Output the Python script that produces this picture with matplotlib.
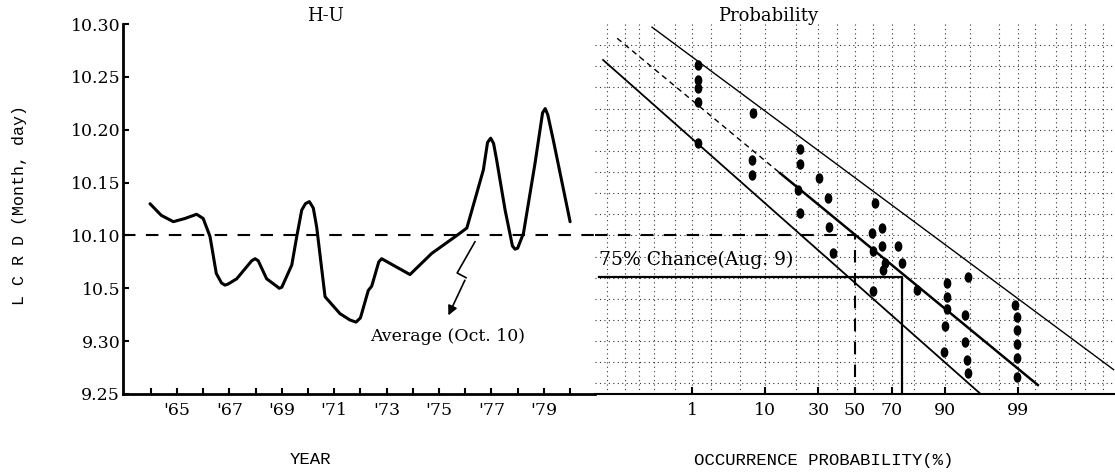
import math
import numpy as np
import matplotlib
matplotlib.use("Agg")
import matplotlib.pyplot as plt
from matplotlib.path import Path
from matplotlib.transforms import Affine2D

# y values are days counted from Sept 1 (25 -> 9.25, 40 -> 10.10, 60 -> 10.30)
y_ticks = [25, 30, 35, 40, 45, 50, 55, 60]
y_tick_labels = ["9.25", "9.30", "10.5", "10.10", "10.15", "10.20", "10.25", "10.30"]

# H-U yearly curve
years = [1963.97, 1964.4, 1964.86, 1965.3, 1965.75, 1966.0, 1966.26, 1966.5,
         1966.7, 1966.83, 1966.95, 1967.28, 1967.85, 1967.98, 1968.1, 1968.42,
         1968.8, 1968.9, 1969.0, 1969.38, 1969.57, 1969.76, 1969.9, 1970.05,
         1970.2, 1970.33, 1970.65, 1971.22, 1971.6, 1971.83, 1972.0, 1972.3,
         1972.43, 1972.7, 1972.81, 1972.95, 1973.89, 1974.72, 1975.68, 1976.06,
         1976.37, 1976.69, 1976.85, 1976.97, 1977.08, 1977.2, 1977.52, 1977.8,
         1977.9, 1978.0, 1978.22, 1978.66, 1978.95, 1979.05, 1979.15, 1979.36,
         1980.0]
lcrd = [43.0, 41.9, 41.3, 41.6, 42.0, 41.6, 39.9, 36.4,
        35.5, 35.3, 35.4, 35.9, 37.6, 37.8, 37.6, 35.9,
        35.2, 35.0, 35.1, 37.2, 39.9, 42.4, 43.0, 43.2,
        42.6, 40.8, 34.2, 32.6, 32.0, 31.8, 32.2, 34.8,
        35.2, 37.5, 37.8, 37.6, 36.3, 38.3, 40.0, 40.7,
        43.4, 46.2, 48.8, 49.2, 48.7, 47.1, 42.4, 39.0,
        38.7, 38.8, 40.2, 46.8, 51.6, 52.0, 51.4, 49.0,
        41.3]
year_labels = ["'65", "'67", "'69", "'71", "'73", "'75", "'77", "'79"]
average_day = 40

# probability plot points (occurrence probability %, day)
prob_pct = [1.25, 1.25, 1.25, 1.25, 1.25,
            7.2, 7.0, 7.0,
            21.6, 21.6, 20.9, 21.6,
            30.5, 35.2, 35.7, 37.5,
            61.3, 64.8, 59.4, 73.2, 64.8, 60.3, 66.6, 74.8, 65.7, 60.0,
            81.1, 94.7, 90.5, 90.5, 90.5, 94.2, 90.1, 94.2, 89.8, 94.5, 94.6,
            98.9, 98.95, 98.95, 98.95, 98.95, 98.95]
prob_day = [56.1, 54.7, 53.9, 52.6, 48.7,
            51.6, 47.1, 45.7,
            48.2, 46.8, 44.3, 42.1,
            45.4, 43.5, 40.8, 38.3,
            43.1, 40.7, 40.2, 39.0, 39.0, 38.5, 37.4, 37.4, 36.7, 34.7,
            34.8, 36.1, 35.5, 34.2, 33.0, 32.5, 31.4, 29.9, 29.0, 28.2, 27.0,
            33.4, 32.3, 31.1, 29.7, 28.4, 26.6]

# fitted lines on probability paper: (prob % start, prob % end), (day start, day end)
lower_p, lower_d = [0.016, 96.5], [56.6, 24.9]
mid_upper_p, mid_upper_d = [0.034, 14.2], [58.65, 45.9]
mid_p, mid_d = [14.2, 99.55], [45.9, 25.85]
upper_p, upper_d = [0.187, 99.989], [59.7, 27.3]

chance_pct = 75
chance_day = 36.1
prob_ticks = [1, 10, 30, 50, 70, 90, 99]
grid_probs = [0.02, 0.05, 0.1, 0.2, 0.5, 1, 2, 5, 10, 20, 30, 40, 50, 60, 70,
              80, 90, 95, 98, 99, 99.5, 99.8, 99.9, 99.95, 99.98]


def ppf(p):
    lo, hi = -10.0, 10.0
    for _ in range(80):
        mid = 0.5 * (lo + hi)
        if 0.5 * (1 + math.erf(mid / math.sqrt(2))) < p:
            lo = mid
        else:
            hi = mid
    return 0.5 * (lo + hi)


def z_of(pcts):
    return np.array([ppf(v / 100.0) for v in pcts])


serif = "DejaVu Serif"
mono = "Liberation Mono"

fig = plt.figure(figsize=(11.15, 4.72), dpi=100)
W, H = 1115.0, 472.0
bottom = (H - 394) / H
height = (394 - 24) / H

ax = fig.add_axes([123 / W, bottom, (595 - 123) / W, height])
ax2 = fig.add_axes([595 / W, bottom, (1115 - 595) / W, height])

# left panel
ax.plot(years, lcrd, color="black", lw=2.2, solid_joinstyle="round",
        solid_capstyle="round")
ax.axhline(average_day, color="black", lw=1.5, dashes=(6, 5))
ax.set_xlim(1962.94, 1980.95)
ax.set_ylim(25, 60)
ax.set_yticks(y_ticks)
ax.set_yticklabels(y_tick_labels, fontfamily=serif, fontsize=12.5)
ax.set_xticks(np.arange(1965, 1980, 2))
ax.set_xticklabels(year_labels, fontfamily=serif, fontsize=12.5)
ax.set_xticks(np.arange(1964, 1981, 1), minor=True)
ax.tick_params(axis="both", which="both", direction="in", length=4, width=1.5, color="black")
ax.tick_params(axis="y", pad=2)
ax.tick_params(axis="x", pad=6)
for s in ["top", "right"]:
    ax.spines[s].set_visible(False)
ax.spines["left"].set_linewidth(2.0)
ax.spines["bottom"].set_linewidth(2.0)
ax.set_title("H-U", fontfamily=serif, fontsize=13, x=0.43, y=0.985)

ax.text(1972.37, 30.4, "Average (Oct. 10)", fontfamily=serif, fontsize=12.5,
        ha="left", va="center")
zig_x = [1976.37, 1975.69, 1976.03]
zig_y = [39.4, 36.45, 36.0]
ax.plot(zig_x, zig_y, color="black", lw=1.2)
ax.annotate("", xy=(1975.31, 32.2), xytext=(zig_x[-1], zig_y[-1]),
            arrowprops=dict(arrowstyle="-|>", color="black", lw=1.2,
                            mutation_scale=14))

# right panel: probability paper
ax2.set_xlim(-3.714, 3.714)
ax2.set_ylim(25, 60)
for gz in z_of(grid_probs):
    ax2.axvline(gz, color="black", lw=0.8, ls=(0, (1, 3)), alpha=0.8)
for gd in np.arange(26, 60, 2):
    ax2.axhline(gd, color="black", lw=0.8, ls=(0, (1, 3)), alpha=0.8)

ax2.plot(z_of(lower_p), lower_d, color="black", lw=1.3)
ax2.plot(z_of(mid_upper_p), mid_upper_d, color="black", lw=1.0, dashes=(4, 3))
ax2.plot(z_of(mid_p), mid_d, color="black", lw=1.8)
ax2.plot(z_of(upper_p), upper_d, color="black", lw=1.0)

ell = Path.unit_circle().transformed(Affine2D().scale(0.7, 1.0))
ax2.plot(z_of(prob_pct), prob_day, ls="none", marker=ell, ms=6.5,
         color="black")

zc = ppf(chance_pct / 100.0)
ax2.plot([-3.714, 0, 0], [average_day, average_day, 25], color="black",
         lw=1.5, dashes=(6, 5))
ax2.plot([-3.65, zc, zc], [chance_day, chance_day, 25], color="black", lw=1.6)
ax2.text(-3.66, chance_day + 0.7, "75% Chance(Aug. 9)", fontfamily=serif,
         fontsize=13.5, ha="left", va="bottom")

ax2.set_xticks(z_of(prob_ticks))
ax2.set_xticklabels([str(v) for v in prob_ticks], fontfamily=serif, fontsize=12.5)
ax2.tick_params(axis="x", direction="in", length=5, width=1.5, pad=6)
ax2.set_yticks([])
for s in ["top", "right", "left"]:
    ax2.spines[s].set_visible(False)
ax2.spines["bottom"].set_linewidth(1.5)
ax2.set_title("Probability", fontfamily=serif, fontsize=13, x=0.333, y=0.985)

fig.text(20 / W, 1 - 205 / H, "L C R D (Month, day)", fontfamily=mono,
         fontsize=12, rotation=90, ha="center", va="center")
fig.text(310 / W, 1 - 460 / H, "YEAR", fontfamily=mono, fontsize=12.5,
         ha="center", va="center")
fig.text(824 / W, 1 - 460 / H, "OCCURRENCE PROBABILITY(%)", fontfamily=mono,
         fontsize=12.5, ha="center", va="center")

fig.savefig("out.png", dpi=100)
